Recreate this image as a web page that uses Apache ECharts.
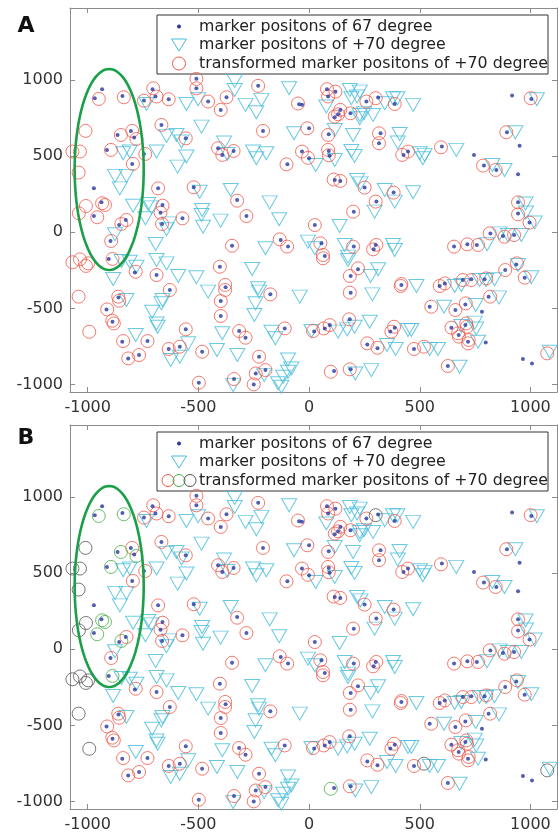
<!DOCTYPE html>
<html><head><meta charset="utf-8">
<script src="https://cdn.jsdelivr.net/npm/echarts@6/dist/echarts.min.js"></script>
<style>html,body{margin:0;padding:0;background:#fff}#c{width:558px;height:834px}</style>
</head><body><div id="c"></div>
<script>
const tickValues = [-1000, -500, 0, 500, 1000];
const legendLabels = ['marker positons of 67 degree', 'marker positons of +70 degree', 'transformed marker positons of +70 degree'];
const panelLabels = ['A', 'B'];

const dots67 = [
[-935,941],[-968,882],[-843,897],[-865,640],[-805,667],[-790,623],[-913,542],[-746,515],[-799,450],[-972,289],[-938,197],
[-746,866],[-707,941],[-694,893],[-634,875],[-509,1009],[-509,947],[-456,860],[-399,805],[-373,888],[-230,963],
[-667,706],[-557,618],[-208,667],[-411,553],[-392,509],[-341,535],[-682,289],[-521,296],[-325,213],[-662,180],
[-972,107],[-858,48],[-828,81],[-897,-57],[-905,-175],[-787,-265],[-861,-428],[-915,-507],[-888,-588],[-844,-719],[-730,-715],[-817,-829],[-768,-807],[-634,-767],[-584,-752],[-557,-638],[-629,-379],[-689,-281],[-671,129],[-664,55],[-572,92],[-348,-88],[-283,107],[-403,-226],[-377,-362],[-399,-452],[-399,-550],[-175,-408],[-483,-785],[-498,-989],[-339,-965],[-316,-649],[-287,-693],[-226,-818],[-241,-928],[-250,-1000],[-197,-906],
[81,941],[86,893],[119,925],[-45,842],[-32,838],[141,805],[131,776],[116,757],[187,783],[259,860],[312,886],[387,844],[0,684],[89,645],[323,651],[316,586],[-32,531],[0,487],[89,535],[93,504],[-98,447],[427,509],[447,531],[600,564],[745,509],[790,439],[846,410],[944,382],[951,570],[894,658],[917,899],[1004,877],[116,344],[141,338],[251,294],[382,261],[304,202],[944,197],
[26,48],[202,136],[-128,-50],[-95,-94],[56,-72],[71,-156],[202,-94],[301,-83],[292,-112],[221,-243],[188,-287],[417,-346],[188,-397],[590,-353],[613,-336],[695,-314],[733,-309],[793,-309],[811,-423],[886,-248],[936,-211],[974,-298],[545,-489],[661,-511],[706,-474],[781,-522],[706,-610],[643,-627],[676,-675],[718,-719],[798,-724],[93,-610],[71,-632],[-110,-632],[23,-653],[184,-572],[387,-627],[367,-653],[263,-737],[309,-763],[474,-767],[627,-879],[966,-833],[1007,-862],[113,-912],[188,-901],[944,123],[996,64],[819,-7],[876,-24],[926,-18],[655,-94],[715,-79],[758,-83]
];

const tri70 = [
[-734,844],[-554,844],[-501,875],[-336,996],[-336,936],[-287,838],[-215,871],[-238,789],[-486,695],[-644,634],[-599,640],[-576,597],[-384,590],[-369,515],[-253,531],[-238,487],[-193,520],[-840,520],[-810,531],[-689,531],[-554,498],[-594,432],[-877,371],[-825,371],[-855,289],[-494,267],[-354,278],[-178,197],[-795,175],[-727,186],[-712,164],[-739,92],[-483,147],[-486,114],[-479,37],[-400,77],[-632,59],[-644,20],
[-877,-13],[-847,-189],[-810,-193],[-780,-226],[-885,-307],[-825,-445],[-709,-522],[-689,-599],[-684,-621],[-662,-445],[-667,-467],[-783,-675],[-625,-840],[-584,-818],[-546,-730],[-693,-77],[-689,-182],[-644,-204],[-591,-287],[-509,-296],[-197,-105],[-257,-241],[-456,-390],[-230,-368],[-226,-390],[-242,-467],[-247,-544],[-392,-664],[-416,-774],[-324,-807],[-343,-1005],[-203,-939],[-170,-654],[-152,-697],[-140,-993],
[-90,947],[78,827],[184,936],[191,882],[217,893],[229,925],[229,772],[248,783],[289,772],[229,750],[342,849],[379,882],[399,882],[470,838],[-68,651],[116,673],[199,640],[409,647],[401,590],[30,443],[116,476],[191,535],[206,502],[500,520],[522,509],[514,487],[665,542],[828,443],[883,410],[932,658],[1029,875],[217,344],[232,322],[342,278],[387,202],[470,263],[978,190],
[-135,86],[138,42],[296,136],[-5,-61],[26,-105],[161,-83],[176,-160],[176,-182],[379,-83],[387,-116],[312,-243],[278,-287],[485,-353],[286,-408],[-42,-423],[658,-353],[688,-346],[770,-314],[800,-314],[838,-309],[858,-428],[944,-215],[1004,-296],[610,-489],[753,-478],[688,-616],[748,-594],[755,-632],[763,-719],[11,-649],[131,-653],[172,-638],[206,-621],[274,-588],[447,-642],[462,-642],[352,-741],[391,-767],[545,-767],[582,-767],[680,-884],[1087,-785],[209,-928],[281,-906],[-95,-836],[-95,-917],[-117,-950],[-80,-895],[-125,-1015],[1019,64],[861,-7],[898,-18],[959,-18],[804,-79],[980,130]
];

const trans70 = [
[-950,877],[-837,888],[-1010,667],[-850,640],[-799,667],[-780,614],[-895,542],[-1069,531],[-1035,531],[-740,515],[-796,450],[-1041,393],[-935,191],[-922,180],
[-1008,173],[-1040,125],[-957,99],[-848,55],[-825,81],[-894,-57],[-888,-175],[-1069,-197],[-1035,-178],[-1008,-221],[-998,-204],[-783,-259],[-1041,-423],[-862,-423],[-858,-450],[-912,-507],[-889,-581],[-882,-599],[-993,-654],[-840,-715],[-730,-715],[-817,-829],[-768,-807],[-634,-767],[-584,-752],[-557,-638],[-629,-379],[-689,-281],[-662,175],[-671,129],[-664,55],[-572,92],[-348,-88],[-325,208],[-283,107],[-403,-226],[-379,-346],[-379,-379],[-399,-452],[-399,-550],[-175,-408],[-483,-785],[-498,-989],[-339,-965],[-316,-649],[-287,-693],[-226,-818],[-241,-928],[-250,-1000],[-197,-906],
[-746,866],[-704,947],[-689,893],[-634,875],[-509,1009],[-509,947],[-456,860],[-399,805],[-373,888],[-230,963],[-667,706],[-557,618],[-208,667],[-411,553],[-392,509],[-341,535],[-682,289],[-521,296],
[81,941],[86,893],[119,925],[-50,847],[141,805],[131,776],[116,761],[187,783],[259,860],[301,882],[387,844],[-8,684],[86,640],[316,651],[316,586],[-32,531],[-5,490],[86,542],[89,507],[-102,447],[421,509],[447,531],[596,559],[786,439],[843,410],[891,658],[1001,882],[111,347],[141,338],[251,294],[382,261],[301,202],[944,197],
[26,48],[199,136],[-133,-46],[-99,-94],[51,-72],[63,-149],[63,-171],[199,-94],[304,-83],[289,-112],[221,-237],[184,-287],[417,-340],[414,-353],[184,-397],[590,-353],[613,-336],[695,-314],[733,-314],[800,-303],[818,-423],[886,-248],[939,-204],[974,-298],[552,-489],[661,-511],[708,-467],[710,-599],[713,-621],[643,-627],[677,-686],[673,-664],[721,-708],[718,-730],[93,-610],[66,-632],[-110,-632],[18,-649],[181,-572],[384,-621],[372,-653],[263,-730],[309,-759],[474,-767],[519,-752],[627,-879],[1076,-796],[98,-917],[184,-901],[944,118],[996,64],[816,-7],[883,-29],[926,-18],[655,-94],[715,-79],[763,-83]
];

// circles drawn green / gray in panel B (the rest stay red)
const greenInB = [[-950,877],[-837,888],[-850,640],[-780,614],[-895,542],[-935,191],[-922,180],[-957,99],[-848,55],[-888,-175],[98,-917]];
const grayInB = [[-1010,667],[-1069,531],[-1035,531],[-1041,393],[-1008,173],[-1040,125],[-1069,-197],[-1035,-178],[-1008,-221],[-998,-204],[-1041,-423],[-993,-654],[301,882],[519,-752],[1076,-796]];

// outlined region: centre x, centre y, half width, half height (data units)
const ellipseRegion = [[-903, 413, 156, 661]];

const C_DOT = '#2836a0', C_TRI = '#45bddb', C_RED = '#f1584b', C_GRN = '#4aae4a', C_GRY = '#555555', C_ELL = '#1b9f48', C_AX = '#8c8c8c';

const key = p => p[0] + ',' + p[1];
const special = new Set(greenInB.concat(grayInB).map(key));
const redInB = trans70.filter(p => !special.has(key(p)));

const grids = [{left:70, top:8, width:487, height:384}, {left:70, top:425, width:487, height:384}];
const plain = v => String(v);

function xAx(g, pos) {
  return {type:'value', gridIndex:g, position:pos, min:-1080, max:1120,
    axisLine:{show:true, onZero:false, lineStyle:{color:C_AX, width:1}},
    axisTick:{show:true, inside:true, length:5, customValues:tickValues, lineStyle:{color:C_AX}},
    axisLabel:{show:pos==='bottom', customValues:tickValues, formatter:plain, margin:8, color:'#333', fontSize:16, fontFamily:'DejaVu Sans'},
    splitLine:{show:false}};
}
function yAx(g, pos) {
  return {type:'value', gridIndex:g, position:pos, min:-1050, max:1475,
    axisLine:{show:true, onZero:false, lineStyle:{color:C_AX, width:1}},
    axisTick:{show:true, inside:true, length:5, customValues:tickValues, lineStyle:{color:C_AX}},
    axisLabel:{show:pos==='left', customValues:tickValues, formatter:plain, margin:7, color:'#333', fontSize:16, fontFamily:'DejaVu Sans'},
    splitLine:{show:false}};
}

function scatter(g, data, kind, color) {
  const s = {type:'scatter', xAxisIndex:g*2, yAxisIndex:g*2, data:data, silent:true, animation:false};
  if (kind === 'dot') { s.symbol = 'circle'; s.symbolSize = 4; s.itemStyle = {color:color}; s.z = 5; }
  else if (kind === 'tri') { s.symbol = 'triangle'; s.symbolRotate = 180; s.symbolSize = [15, 13]; s.itemStyle = {color:'rgba(0,0,0,0)', borderColor:color, borderWidth:1}; s.z = 3; }
  else { s.symbol = 'circle'; s.symbolSize = 13; s.itemStyle = {color:'rgba(0,0,0,0)', borderColor:color, borderWidth:1}; s.z = 4; }
  return s;
}
function ellipseSeries(g) {
  return {type:'custom', xAxisIndex:g*2, yAxisIndex:g*2, data:ellipseRegion, silent:true, animation:false, z:6,
    renderItem: function(params, api) {
      const c = api.coord([api.value(0), api.value(1)]);
      const s = api.size([api.value(2), api.value(3)]);
      const pts = [];
      for (let i = 0; i < 96; i++) { const t = i / 96 * 2 * Math.PI; pts.push([c[0] + s[0] * Math.cos(t), c[1] + s[1] * Math.sin(t)]); }
      return {type:'polygon', shape:{points:pts}, style:{fill:'none', stroke:C_ELL, lineWidth:2.6}};
    }};
}

function legendGroup(top, multi) {
  const rows = [top + 11.5, top + 30, top + 48.5];
  const ch = [
    {type:'rect', shape:{x:157, y:top, width:391, height:59}, style:{fill:'#fff', stroke:'#333', lineWidth:1}},
    {type:'circle', shape:{cx:179, cy:rows[0], r:2}, style:{fill:C_DOT}},
    {type:'polygon', shape:{points:[[171.5, rows[1]-6], [186.5, rows[1]-6], [179, rows[1]+6]]}, style:{fill:'none', stroke:C_TRI, lineWidth:1}}
  ];
  if (multi) {
    [[168,C_RED],[179,C_GRN],[190,C_GRY]].forEach(a => ch.push({type:'circle', shape:{cx:a[0], cy:rows[2], r:6}, style:{fill:'none', stroke:a[1], lineWidth:1}}));
  } else {
    ch.push({type:'circle', shape:{cx:179, cy:rows[2], r:6.5}, style:{fill:'none', stroke:C_RED, lineWidth:1}});
  }
  legendLabels.forEach((t, i) => ch.push({type:'text', x:199, y:rows[i], style:{text:t, fill:'#222', fontSize:15.8, fontFamily:'DejaVu Sans', textVerticalAlign:'middle', textAlign:'left'}}));
  return {type:'group', children:ch, z:100};
}

const chart = echarts.init(document.getElementById('c'), null, {renderer:'canvas'});
chart.setOption({
  animation:false,
  backgroundColor:'#fff',
  grid: grids,
  xAxis: [xAx(0,'bottom'), xAx(0,'top'), xAx(1,'bottom'), xAx(1,'top')],
  yAxis: [yAx(0,'left'), yAx(0,'right'), yAx(1,'left'), yAx(1,'right')],
  series: [
    scatter(0, tri70, 'tri', C_TRI), scatter(0, trans70, 'circ', C_RED), scatter(0, dots67, 'dot', C_DOT), ellipseSeries(0),
    scatter(1, tri70, 'tri', C_TRI), scatter(1, redInB, 'circ', C_RED), scatter(1, greenInB, 'circ', C_GRN), scatter(1, grayInB, 'circ', C_GRY), scatter(1, dots67, 'dot', C_DOT), ellipseSeries(1)
  ],
  graphic: [
    legendGroup(15, false), legendGroup(432, true),
    {type:'text', x:26, y:26, style:{text:panelLabels[0], fill:'#111', fontSize:22, fontWeight:'bold', fontFamily:'DejaVu Sans', textAlign:'center', textVerticalAlign:'middle'}, z:100},
    {type:'text', x:26, y:438, style:{text:panelLabels[1], fill:'#111', fontSize:22, fontWeight:'bold', fontFamily:'DejaVu Sans', textAlign:'center', textVerticalAlign:'middle'}, z:100}
  ]
});
</script></body></html>
